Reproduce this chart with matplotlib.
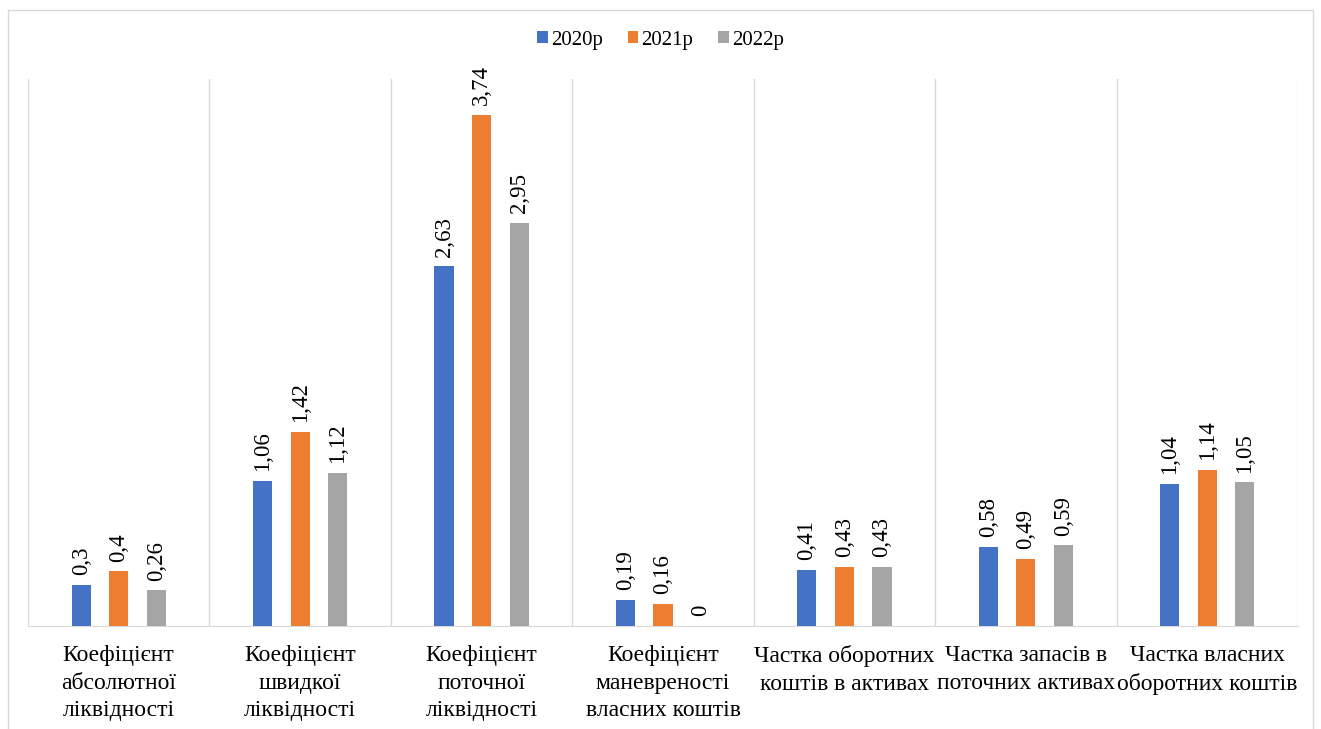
import matplotlib
matplotlib.use("Agg")
import matplotlib.pyplot as plt
import numpy as np
from matplotlib.patches import Rectangle

plt.rcParams['font.family'] = ['Liberation Serif', 'DejaVu Serif']

categories = ["Коефіцієнт\nабсолютної\nліквідності",
              "Коефіцієнт\nшвидкої\nліквідності",
              "Коефіцієнт\nпоточної\nліквідності",
              "Коефіцієнт\nманевреності\nвласних коштів",
              "Частка оборотних\nкоштів в активах",
              "Частка запасів в\nпоточних активах",
              "Частка власних\nоборотних коштів"]
years = ["2020р", "2021р", "2022р"]
v2020 = [0.3, 1.06, 2.63, 0.19, 0.41, 0.58, 1.04]
v2021 = [0.4, 1.42, 3.74, 0.16, 0.43, 0.49, 1.14]
v2022 = [0.26, 1.12, 2.95, 0, 0.43, 0.59, 1.05]
colors = ["#4472C4", "#ED7D31", "#A5A5A5"]

W, H = 1321, 729
fig = plt.figure(figsize=(W / 100, H / 100), dpi=100)
# outer chart border
fig.patches.append(Rectangle((8 / W, -0.05), 1305 / W, 1.05 - 10 / H,
                             transform=fig.transFigure, fill=False,
                             edgecolor="#d9d9d9", linewidth=1))

ax = fig.add_axes([28 / W, 1 - 626 / H, 1270 / W, 547 / H])
x = np.arange(len(categories))
width = 0.105
offs = [-0.207, 0, 0.207]
series = [v2020, v2021, v2022]

for i, (vals, yr) in enumerate(zip(series, years)):
    bars = ax.bar(x + offs[i], vals, width, color=colors[i], label=yr, zorder=3)
    for b, v in zip(bars, vals):
        lab = ("%g" % v).replace(".", ",")
        ax.annotate(lab, (b.get_x() + b.get_width() / 2, b.get_height()),
                    xytext=(0, 7), textcoords="offset points",
                    rotation=90, ha="center", va="bottom", fontsize=16.5)

ax.set_xlim(-0.5, len(categories) - 0.5)
ax.set_ylim(0, 4)
for b in np.arange(-0.5, len(categories), 1):
    ax.axvline(b, color="#d9d9d9", linewidth=1, zorder=1)

ax.set_xticks(x)
ax.set_xticklabels(categories, fontsize=17, linespacing=1.38)
ax.tick_params(axis="x", length=0, pad=14)
ax.set_yticks([])
for s in ["left", "right", "top"]:
    ax.spines[s].set_visible(False)
ax.spines["bottom"].set_color("#d9d9d9")

fig.legend(loc="center", bbox_to_anchor=(0.5, 1 - 40 / H), ncol=3,
           frameon=False, fontsize=15, handlelength=0.5, handleheight=0.5,
           handletextpad=0.15, columnspacing=1.2)

fig.savefig("out.png", dpi=100)
